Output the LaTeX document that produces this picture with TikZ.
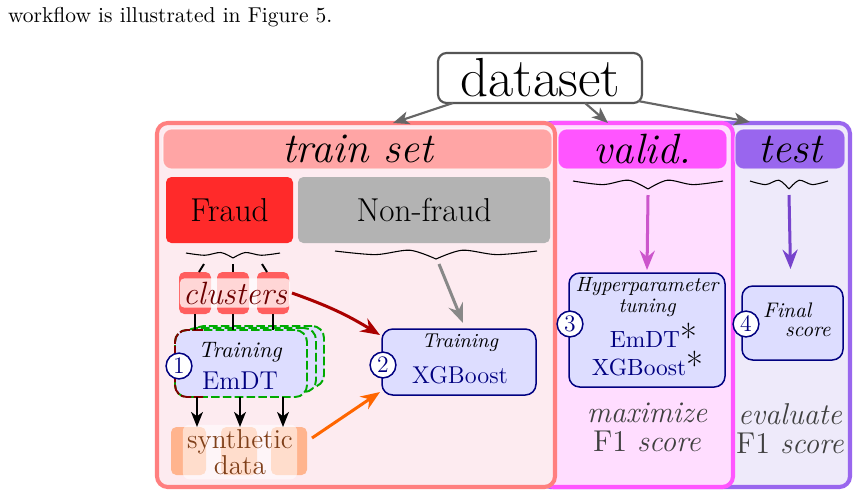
\documentclass[tikz,border=0pt]{standalone}
\usetikzlibrary{arrows.meta,calc}
\definecolor{trainB}{HTML}{FF7F7F}
\definecolor{trainF}{HTML}{FDEBF0}
\definecolor{trainH}{HTML}{FFA5A5}
\definecolor{validB}{HTML}{FF55FF}
\definecolor{validF}{HTML}{FFDDFF}
\definecolor{testB}{HTML}{9966EE}
\definecolor{testF}{HTML}{EEEAFA}
\definecolor{fraudC}{HTML}{FF2A2A}
\definecolor{nonfraudC}{HTML}{B3B3B3}
\definecolor{boxF}{HTML}{DDDDFF}
\definecolor{navyC}{HTML}{000080}
\definecolor{clusC}{HTML}{FF5E5E}
\definecolor{clusT}{HTML}{6B0000}
\definecolor{synthC}{HTML}{FFB48E}
\definecolor{synthT}{HTML}{80401A}
\definecolor{darkredC}{HTML}{AA0000}
\definecolor{orangeC}{HTML}{FF6600}
\definecolor{validA}{HTML}{CC55CC}
\definecolor{testA}{HTML}{7744CC}
\definecolor{dsgray}{HTML}{555555}
\definecolor{arrgray}{HTML}{666666}
\definecolor{nfgray}{HTML}{888888}
\definecolor{greenD}{HTML}{00AA00}
\definecolor{maroonD}{HTML}{800000}
\definecolor{noteT}{HTML}{404040}
\newcommand\fs[2]{\fontsize{#1}{#2}\selectfont}
\def\pxu{0.4651pt}
\newcommand\wavybrace[5]{%
  \pgfmathsetmacro\wbw{#3-#2}%
  \pgfmathsetmacro\wbm{(#2+#3)/2}%
  \pgfmathsetmacro\wba{#2+0.2*\wbw}%
  \pgfmathsetmacro\wbb{\wbm-0.13*\wbw}%
  \pgfmathsetmacro\wbc{\wbm+0.13*\wbw}%
  \pgfmathsetmacro\wbd{#3-0.2*\wbw}%
  \pgfmathsetmacro\wbyl{#4+0.45*#5}%
  \pgfmathsetmacro\wbyh{#4-0.1*#5}%
  \pgfmathsetmacro\wbyt{#4+#5}%
  \draw[braceline] plot[smooth] coordinates {(#2,#4) (\wba,\wbyl) (\wbb,\wbyh) (\wbm,\wbyt)};
  \draw[braceline] plot[smooth] coordinates {(\wbm,\wbyt) (\wbc,\wbyh) (\wbd,\wbyl) (#3,#4)};
  \coordinate (#1) at (\wbm,\wbyt);
}
\begin{document}
\begin{tikzpicture}[x=\pxu,y=-\pxu,
  every node/.style={inner sep=0pt, outer sep=0pt},
  sz/.style 2 args={minimum width=#1*\pxu, minimum height=#2*\pxu},
  outerbox/.style={draw=#1, line width=1.9pt, rounded corners=5pt},
  headbar/.style={fill=#1, draw=white, draw opacity=0.6, line width=0.5pt, rounded corners=4pt, font=\fs{19.7}{23}\itshape},
  catbox/.style={fill=#1, rounded corners=2.5pt, font=\fs{15.4}{18}},
  bluebox/.style={draw=navyC, fill=boxF, line width=0.7pt, rounded corners=5pt},
  emdtcopy/.style={fill=boxF, draw=greenD, line width=0.9pt, dash pattern=on 4pt off 1.5pt, rounded corners=5.5pt},
  num/.style={circle, draw=navyC, fill=white, text=navyC, line width=0.7pt, minimum size=12pt, font=\fs{11}{13}},
  cl/.style={fill=clusC, rounded corners=2.5pt},
  sy/.style={fill=synthC, rounded corners=2.5pt},
  braceline/.style={draw=black, line width=0.5pt},
  dsarrow/.style={draw=arrgray, line width=1pt, -{Stealth[length=7.5pt,width=6pt,inset=2pt]}},
  bigarrow/.style={draw=#1, line width=1.4pt, -{Stealth[length=9pt,width=7pt,inset=3pt]}},
  blkline/.style={draw=black, line width=0.9pt},
  blkarrow/.style={draw=black, line width=0.9pt, -{Stealth[length=7pt,width=5.5pt,inset=2pt]}},
  note/.style={text=noteT, align=center, font=\fs{14}{13.5}}
]
\useasboundingbox (0,0) rectangle (857,495);
\fill[white] (0,0) rectangle (857,495);

\node[anchor=base west, font=\fs{10}{12}] (intro) at (8,22) {workflow is illustrated in Figure 5.};

% outer boxes
\node[outerbox=testB, fill=testF, sz={310}{364}] (testbox) at (695,305) {};
\node[outerbox=validB, fill=validF, sz={190}{364}] (validbox) at (638,305) {};
\node[outerbox=trainB, fill=trainF, sz={398}{364}] (trainbox) at (356,305) {};

% headers
\node[headbar=trainH, sz={389}{40}] (trainhead) at (357.5,149) {train set};
\node[headbar=validB, sz={169}{40}] (validhead) at (642.5,149) {valid.};
\node[headbar=testB, sz={110}{40}] (testhead) at (790,149) {test};

% dataset
\coordinate (t1) at (393,123);
\coordinate (t2) at (608,123);
\coordinate (t3) at (750,122);
\node[draw=dsgray, fill=white, line width=1pt, rounded corners=4pt, sz={204}{50}, font=\fs{25.6}{29}] (ds) at (540,78) {dataset};
\draw[dsarrow] ($(ds.south west)+(15,0)$) -- (t1);
\draw[dsarrow] ($(ds.south)+(45,0)$) -- (t2);
\draw[dsarrow] ($(ds.east)+(-4,23)$) -- (t3);

% fraud / non-fraud
\node[catbox=fraudC, sz={127}{66}] (fraud) at (229.5,210) {Fraud};
\node[catbox=nonfraudC, sz={252}{66}] (nonfraud) at (424,210) {Non-fraud};

% braces
\wavybrace{fbtip}{186}{280}{253}{5}
\wavybrace{nftip}{335}{537}{251}{8}
\wavybrace{vtip}{573}{723}{181}{8}
\wavybrace{ttip}{750}{828}{181}{8}

% clusters
\node[cl, sz={32}{42}] (c1) at (195,293) {};
\node[cl, sz={32}{42}] (c2) at (233,293) {};
\node[cl, sz={32}{42}] (c3) at (273,293) {};
\node[fill=white, fill opacity=0.75, text opacity=1, rounded corners=2pt, inner sep=1.5pt, text=clusT, font=\fs{15}{17}\itshape] (clusters) at (235,293) {clusters};
\draw[blkline] ($(fbtip)+(-29,6)$) -- ($(c1.north)+(4,0)$);
\draw[blkline] ($(fbtip)+(0,6)$) -- (c2.north);
\draw[blkline] ($(fbtip)+(29,6)$) -- ($(c3.north)+(-6,0)$);

% EmDT stacked boxes
\node[emdtcopy, sz={132}{61}] (emdt3) at (258,356.5) {};
\node[emdtcopy, sz={132}{64}] (emdt2) at (250,360) {};
\node[emdtcopy, sz={132}{67}, align=center] (emdt) at (241,363.5) {};
\draw[draw=maroonD, line width=0.9pt, dash pattern=on 5pt off 1pt, rounded corners=5.5pt]
  ($(emdt.north west)+(28,0)$) -- (emdt.north west) -- (emdt.south west) -- ($(emdt.south west)+(28,0)$);
\node[align=center] (emdttxt) at (240,366) {{\fs{10.4}{12}\itshape Training}\\[3pt]{\fs{12}{13}\color{navyC}EmDT}};
\node[num] (n1) at (179,366) {1};
\foreach \cc in {c1,c2,c3} \draw[blkline] (\cc.south) -- (\cc.south |- emdt.north);

% synthetic data
\node[sy, sz={35}{48}] (s1) at (188.5,451) {};
\node[sy, sz={36}{48}] (s2) at (239,451) {};
\node[sy, sz={36}{48}] (s3) at (289,451) {};
\node[fill=white, fill opacity=0.55, text opacity=1, rounded corners=3pt, inner sep=2pt, text=synthT, align=center, font=\fs{12.7}{9}] (synth) at (240,452) {synthetic\\data};
\coordinate (a1) at ($(emdt.south)+(-44,0)$);
\coordinate (a2) at ($(emdt.south)+(-1,0)$);
\coordinate (a3) at ($(emdt.south)+(42,0)$);
\draw[blkarrow] (a1) -- (a1 |- s1.north);
\draw[blkarrow] (a2) -- (a2 |- s2.north);
\draw[blkarrow] (a3) -- (a3 |- s3.north);

% XGBoost
\node[bluebox, sz={154}{66}] (xgb) at (459,362) {};
\node[align=center] (xgbtxt) at (460,359) {{\fs{9.3}{11}\itshape Training}\\[5pt]{\fs{11.3}{13}\color{navyC}XGBoost}};
\node[num] (n2) at (383,365) {2};
\draw[bigarrow=darkredC] ($(c3.east)+(3,0)$) to[bend left=6] ($(xgb.north west)+(-2,6)$);
\draw[bigarrow=orangeC] ($(s3.east)+(5,-13)$) -- ($(xgb.south west)+(-2,-3)$);
\draw[bigarrow=nfgray] ($(nftip)+(3,5)$) -- ($(xgb.north)+(4,-6)$);

% validation
\node[bluebox, sz={156}{114}] (hyper) at (647,330) {};
\node[align=center, font=\fs{9.6}{9.5}\itshape] (hypt) at (647,297) {Hyperparameter\\tuning};
\node[anchor=base, text=navyC, font=\fs{10.9}{13}] (hemdt) at (645,347) {EmDT\rlap{\raisebox{-1.5pt}{\color{black}\fs{17}{17}*}}};
\node[anchor=base, text=navyC, font=\fs{10.9}{13}] (hxgb) at (639,375) {XGBoost\rlap{\raisebox{-1.5pt}{\color{black}\fs{17}{17}*}}};
\node[num] (n3) at (570,324) {3};
\draw[bigarrow=validA] ($(vtip)+(0,6)$) -- ($(hyper.north)+(0,-3)$);
\node[note] (maxi) at (647,427) {\itshape maximize\\F1 \textit{score}};

% test
\node[bluebox, sz={101}{74}] (final) at (792.5,323) {};
\node[anchor=base west, font=\fs{9.8}{12}\itshape] (fin1) at (763,317) {Final};
\node[anchor=base west, font=\fs{9.8}{12}\itshape] (fin2) at (785,336) {score};
\node[num] (n4) at (746,324) {4};
\draw[bigarrow=testA] ($(ttip)+(0,6)$) -- ($(final.north)+(-2,-17)$);
\node[note] (evalu) at (790,429) {\itshape evaluate\\F1 \textit{score}};
\end{tikzpicture}
\end{document}
